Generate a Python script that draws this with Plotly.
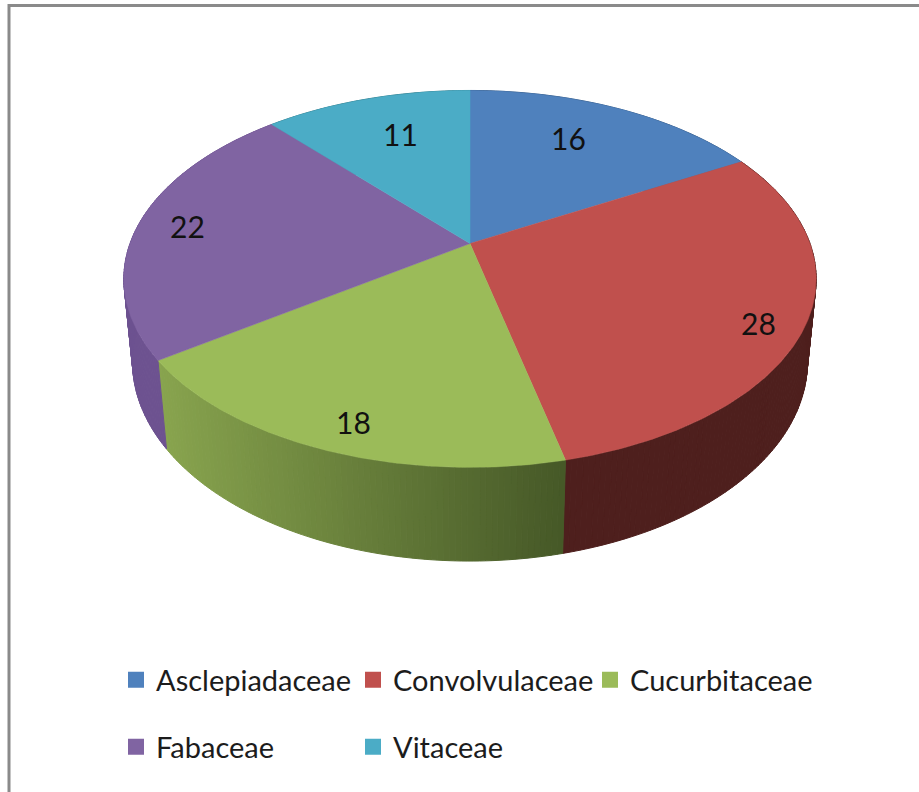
import numpy as np
import plotly.graph_objects as go

families = ["Asclepiadaceae", "Convolvulaceae", "Cucurbitaceae", "Fabaceae", "Vitaceae"]
counts = [16, 28, 18, 22, 11]
top_colors = ["#4f81bd", "#c0504d", "#9bbb59", "#8064a2", "#4bacc6"]
wall_near = ["#3a5f8b", "#4e1f1d", "#88a44e", "#6d5290", "#37808f"]
wall_far = ["#3a5f8b", "#4e1f1d", "#465827", "#6d5290", "#37808f"]
label_shift_x = [-9, 58, -20, -50, 6]
label_shift_y = [-7, 26, 43, -3, -4]

# projection of the tilted disc on to the page (page pixels)
APEX_X, APEX_Y = 470.0, 243.5
A, B, K, DEPTH, DEPTH_W = 340.0, 181.8, 0.188, 84.0, 0.025
FONT = "Lato, sans-serif"


def project(theta, r=1.0, z=0.0):
    u, v = r * np.sin(theta), r * np.cos(theta)
    w = 1 + K * v + DEPTH_W * z
    return APEX_X + A * u / w, APEX_Y - (B * v - DEPTH * z) / w


def mix(c1, c2, t):
    a = [int(c1[i:i + 2], 16) for i in (1, 3, 5)]
    b = [int(c2[i:i + 2], 16) for i in (1, 3, 5)]
    return "rgb(%d,%d,%d)" % tuple(round(p + (q - p) * t) for p, q in zip(a, b))


edges = np.concatenate([[0], np.cumsum(counts)]) / sum(counts) * 2 * np.pi
fig = go.Figure()

# side walls
for i in range(len(counts)):
    angles = np.linspace(edges[i], edges[i + 1], int((edges[i + 1] - edges[i]) / 0.015) + 2)
    xs, _ = project(angles)
    for j in range(len(angles) - 1):
        pair = angles[j:j + 2]
        xt, yt = project(pair)
        xb, yb = project(pair[::-1], z=1.0)
        frac = (0.5 * (xs[j] + xs[j + 1]) - xs.min()) / max(xs.max() - xs.min(), 1)
        col = mix(wall_near[i], wall_far[i], frac)
        fig.add_trace(go.Scatter(
            x=np.r_[xt, xb, xt[0]], y=np.r_[yt, yb, yt[0]], mode="lines", fill="toself",
            fillcolor=col, line=dict(color=col, width=1), hoverinfo="skip", showlegend=False))

# top faces
for i, (name, col) in enumerate(zip(families, top_colors)):
    angles = np.linspace(edges[i], edges[i + 1], 160)
    xt, yt = project(angles)
    fig.add_trace(go.Scatter(
        x=np.r_[APEX_X, xt, APEX_X], y=np.r_[APEX_Y, yt, APEX_Y], mode="lines", fill="toself",
        fillcolor=col, line=dict(color=col, width=0.5), name=name, text=str(counts[i]),
        hoverinfo="name+text", showlegend=False))

# legend entries
for i, (name, col) in enumerate(zip(families, top_colors)):
    fig.add_trace(go.Scatter(
        x=[None], y=[None], mode="markers", name=name,
        marker=dict(symbol="square", size=18, color=col),
        legend="legend" if i < 3 else "legend2"))

annotations = []
mid = 0.5 * (edges[:-1] + edges[1:])
for i, c in enumerate(counts):
    lx, ly = project(mid[i], r=0.7)
    annotations.append(dict(
        x=float(lx), y=float(ly), xref="x", yref="y", text=str(c), showarrow=False,
        xshift=label_shift_x[i], yshift=-label_shift_y[i],
        font=dict(family=FONT, size=30, color="#111111")))

frame = "#8a8a8a"
legend_style = dict(
    orientation="h", xref="paper", yref="paper", xanchor="left", yanchor="middle",
    bgcolor="rgba(0,0,0,0)", entrywidthmode="pixels", itemclick=False, itemdoubleclick=False,
    font=dict(family=FONT, size=29, color="#1c1c1c"))

fig.update_layout(
    width=919, height=792, margin=dict(l=0, r=0, t=0, b=0),
    paper_bgcolor="white", plot_bgcolor="white", showlegend=True,
    xaxis=dict(range=[0, 919], visible=False, fixedrange=True),
    yaxis=dict(range=[792, 0], visible=False, fixedrange=True),
    annotations=annotations,
    legend=dict(x=116 / 919, y=1 - 680 / 792, entrywidth=192, **legend_style),
    legend2=dict(x=116 / 919, y=1 - 747 / 792, entrywidth=192, **legend_style),
    shapes=[
        dict(type="line", xref="x", yref="y", x0=8, x1=919, y0=5.5, y1=5.5, line=dict(color=frame, width=3)),
        dict(type="line", xref="x", yref="y", x0=9, x1=9, y0=4, y1=792, line=dict(color=frame, width=3)),
    ],
)
fig.write_html("out.html", config=dict(displayModeBar=False),
               post_script="document.body.style.margin='0';document.body.style.overflow='hidden';")
